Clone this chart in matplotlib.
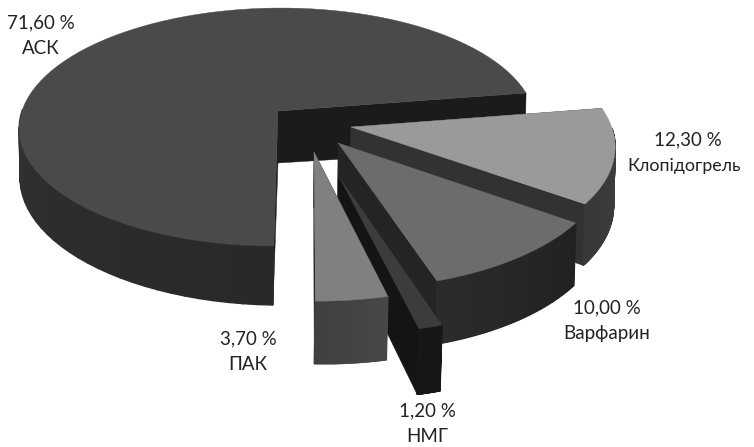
import numpy as np
import matplotlib
matplotlib.use("Agg")
import matplotlib.pyplot as plt
from matplotlib.patches import Polygon

plt.rcParams['font.family'] = ['Lato', 'Open Sans', 'DejaVu Sans']

# shares in percent, clockwise from the front of the pie
names = ["АСК", "Клопідогрель", "Варфарин", "НМГ", "ПАК"]
shares = [71.6, 12.3, 10.0, 1.2, 3.7]

# perspective of the pie: disk coordinates to pixels, top and bottom planes
H_TOP = np.array([[256, 41, 278], [0.1, -101.9, 111], [0, 0.1345, 1]])
H_BOT = np.array([[255, 41.7, 278], [4, -101, 163], [0, 0.1345, 1]])

# how far each slice is pulled out, in disk coordinates
offsets = [(0, 0), (0.2817, -0.1345), (0.2304, -0.2642), (0.2281, -0.5176), (0.1391, -0.3351)]

top_col = ["#4a4a4a", "#9a9a9a", "#6c6c6c", "#3c3c3c", "#808080"]
cut_col = ["#1b1b1b", "#323232", "#242424", "#141414", "#2a2a2a"]
wall_col = [(0.16, 0.25), (0.25, 0.22), (0.13, 0.17), (0.09, 0.09), (0.28, 0.25)]
pct_pos = [(41, 23), (688, 140), (607, 308), (427, 411), (248, 339)]
name_pos = [(41, 49), (684, 166), (607, 334), (427, 437), (248, 365)]
name_size = [13.5, 12.8, 13.5, 13.5, 13.5]

values = np.array(shares)
angles = values / values.sum() * 360.0
ends = -90.0 - np.cumsum(angles)
starts = ends + angles


def project(h, u, v):
    p = h @ np.vstack([u, v, np.ones_like(u)])
    return p[0] / p[2], p[1] / p[2]


fig = plt.figure(figsize=(7.54, 4.47), dpi=100)
ax = fig.add_axes([0, 0, 1, 1])
ax.set_xlim(0, 754)
ax.set_ylim(447, 0)
ax.axis("off")


def draw_slice(i):
    du, dv = offsets[i]
    th = np.radians(np.linspace(starts[i], ends[i], 90))
    xt, yt = project(H_TOP, du + np.cos(th), dv + np.sin(th))
    xb, yb = project(H_BOT, du + np.cos(th), dv + np.sin(th))
    at = project(H_TOP, np.array([du]), np.array([dv]))
    ab = project(H_BOT, np.array([du]), np.array([dv]))
    at = (at[0][0], at[1][0])
    ab = (ab[0][0], ab[1][0])
    # the two cut faces
    for k in (0, -1):
        ax.add_patch(Polygon([at, (xt[k], yt[k]), (xb[k], yb[k]), ab], fc=cut_col[i], ec=cut_col[i], lw=0.3))
    # outer wall, shaded along the arc; the far side of the pie never shows
    g0, g1 = wall_col[i]
    for k in range(len(th) - 1):
        if np.sin(th[k]) > 0:
            continue
        g = str(g0 + (g1 - g0) * k / (len(th) - 2))
        ax.add_patch(Polygon([(xt[k], yt[k]), (xt[k + 1], yt[k + 1]), (xb[k + 1], yb[k + 1]), (xb[k], yb[k])],
                             fc=g, ec=g, lw=1.0))
    ax.add_patch(Polygon(np.r_[[at], np.c_[xt, yt]], fc=top_col[i], ec=top_col[i], lw=0.3))


for i in range(len(names)):
    draw_slice(i)

for i, name in enumerate(names):
    ax.text(*pct_pos[i], f"{shares[i]:.2f}".replace(".", ",") + " %", ha="center", va="center",
            fontsize=13.5, color="#222222")
    ax.text(*name_pos[i], name, ha="center", va="center", fontsize=name_size[i], color="#222222")

fig.savefig("out.png", dpi=100)
